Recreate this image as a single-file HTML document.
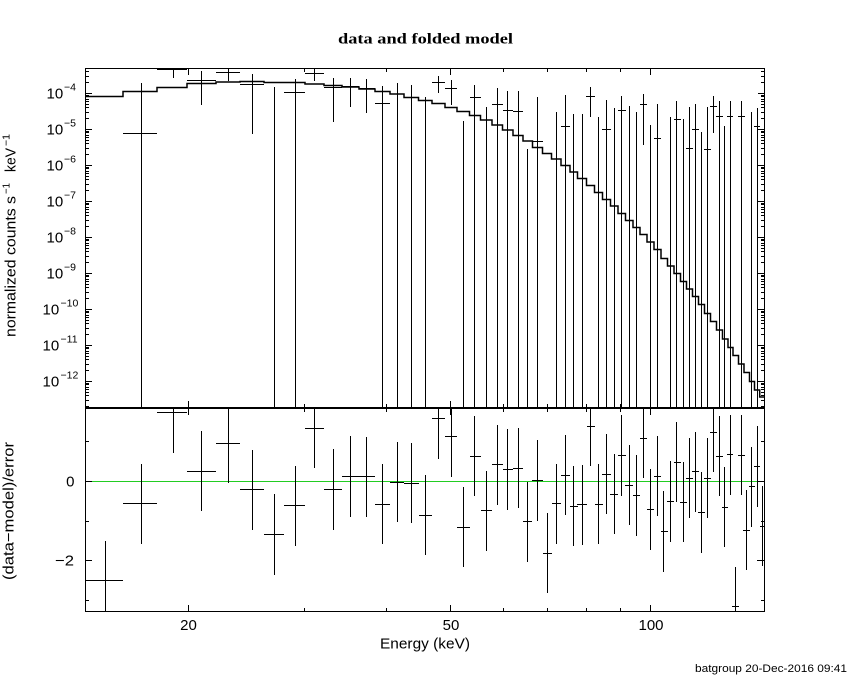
<!DOCTYPE html>
<html><head><meta charset="utf-8"><style>html,body{margin:0;padding:0;background:#fff}svg{display:block}</style></head>
<body>
<svg width="850" height="680" viewBox="0 0 850 680" xmlns="http://www.w3.org/2000/svg">
<rect width="850" height="680" fill="#fff"/>
<path d="M85 481.5H764" stroke="#22cc22" stroke-width="1" fill="none"/>
<g stroke="#000" fill="none" stroke-width="1">
<path d="M85 68.5H765 M85.5 68V408 M764.5 68V408 M85.5 408V612 M764.5 408V612 M85 611.5H765"/>
<path d="M85 408H765" stroke-width="2"/>
<path d="M188.5 68V75 M450.5 68V75 M650.5 68V75 M304.5 68V72 M386.5 68V72 M503.5 68V72 M547.5 68V72 M586.5 68V72 M620.5 68V72"/>
<path d="M188.5 407V401 M450.5 407V401 M650.5 407V401 M304.5 407V404 M386.5 407V404 M503.5 407V404 M547.5 407V404 M586.5 407V404 M620.5 407V404"/>
<path d="M188.5 409V415 M450.5 409V415 M650.5 409V415 M304.5 409V412 M386.5 409V412 M503.5 409V412 M547.5 409V412 M586.5 409V412 M620.5 409V412"/>
<path d="M188.5 611V605 M450.5 611V605 M650.5 611V605 M304.5 611V608 M386.5 611V608 M503.5 611V608 M547.5 611V608 M586.5 611V608 M620.5 611V608"/>
<path d="M85 93.5h7 M85 129.5h7 M85 165.5h7 M85 201.5h7 M85 237.5h7 M85 273.5h7 M85 309.5h7 M85 345.5h7 M85 381.5h7"/>
<path d="M765 93.5h-7 M765 129.5h-7 M765 165.5h-7 M765 201.5h-7 M765 237.5h-7 M765 273.5h-7 M765 309.5h-7 M765 345.5h-7 M765 381.5h-7"/>
<path d="M85 71.5h4 M85 76.5h4 M85 82.5h4
M85 95.5h4 M85 96.5h4 M85 99.5h4 M85 101.5h4 M85 104.5h4 M85 107.5h4 M85 112.5h4 M85 118.5h4
M85 131.5h4 M85 132.5h4 M85 135.5h4 M85 137.5h4 M85 140.5h4 M85 143.5h4 M85 148.5h4 M85 154.5h4
M85 167.5h4 M85 168.5h4 M85 171.5h4 M85 173.5h4 M85 176.5h4 M85 179.5h4 M85 184.5h4 M85 190.5h4
M85 203.5h4 M85 204.5h4 M85 207.5h4 M85 209.5h4 M85 212.5h4 M85 215.5h4 M85 220.5h4 M85 226.5h4
M85 239.5h4 M85 240.5h4 M85 243.5h4 M85 245.5h4 M85 248.5h4 M85 251.5h4 M85 256.5h4 M85 262.5h4
M85 275.5h4 M85 276.5h4 M85 279.5h4 M85 281.5h4 M85 284.5h4 M85 287.5h4 M85 292.5h4 M85 298.5h4
M85 311.5h4 M85 312.5h4 M85 315.5h4 M85 317.5h4 M85 320.5h4 M85 323.5h4 M85 328.5h4 M85 334.5h4
M85 347.5h4 M85 348.5h4 M85 351.5h4 M85 353.5h4 M85 356.5h4 M85 359.5h4 M85 364.5h4 M85 370.5h4
M85 383.5h4 M85 384.5h4 M85 387.5h4 M85 389.5h4 M85 392.5h4 M85 395.5h4 M85 400.5h4 M85 406.5h4"/>
<path d="M765 71.5h-4 M765 76.5h-4 M765 82.5h-4
M765 95.5h-4 M765 96.5h-4 M765 99.5h-4 M765 101.5h-4 M765 104.5h-4 M765 107.5h-4 M765 112.5h-4 M765 118.5h-4
M765 131.5h-4 M765 132.5h-4 M765 135.5h-4 M765 137.5h-4 M765 140.5h-4 M765 143.5h-4 M765 148.5h-4 M765 154.5h-4
M765 167.5h-4 M765 168.5h-4 M765 171.5h-4 M765 173.5h-4 M765 176.5h-4 M765 179.5h-4 M765 184.5h-4 M765 190.5h-4
M765 203.5h-4 M765 204.5h-4 M765 207.5h-4 M765 209.5h-4 M765 212.5h-4 M765 215.5h-4 M765 220.5h-4 M765 226.5h-4
M765 239.5h-4 M765 240.5h-4 M765 243.5h-4 M765 245.5h-4 M765 248.5h-4 M765 251.5h-4 M765 256.5h-4 M765 262.5h-4
M765 275.5h-4 M765 276.5h-4 M765 279.5h-4 M765 281.5h-4 M765 284.5h-4 M765 287.5h-4 M765 292.5h-4 M765 298.5h-4
M765 311.5h-4 M765 312.5h-4 M765 315.5h-4 M765 317.5h-4 M765 320.5h-4 M765 323.5h-4 M765 328.5h-4 M765 334.5h-4
M765 347.5h-4 M765 348.5h-4 M765 351.5h-4 M765 353.5h-4 M765 356.5h-4 M765 359.5h-4 M765 364.5h-4 M765 370.5h-4
M765 383.5h-4 M765 384.5h-4 M765 387.5h-4 M765 389.5h-4 M765 392.5h-4 M765 395.5h-4 M765 400.5h-4 M765 406.5h-4"/>
<path d="M85 481.5h7 M85 560.5h7 M85 441.5h4 M85 521.5h4 M85 600.5h4 M765 481.5h-7 M765 560.5h-7 M765 441.5h-4 M765 521.5h-4 M765 600.5h-4"/>
</g>
<path fill="none" stroke="#000" stroke-width="1.5" d="M85 96.5 H123 V91.5 H157 V87.5 H187 V83.5 H216 V82 H240 V81.5 H264 V82.5 H284 V82.5 H305 V84 H324 V85.5 H342 V87 H359 V89 H375 V91.5 H390 V94 H404 V97.5 H418.5 V100.5 H432 V103.5 H445 V107.5 H457 V111.5 H469.5 V115.5 H480.5 V120 H492 V125 H502.5 V130 H513 V135.5 H523 V141 H532.5 V147.5 H542.5 V153.5 H551.5 V159 H561 V165.5 H570 V172 H577.5 V178.5 H586.5 V185.5 H594.5 V192.5 H602.5 V199.5 H610.5 V206 H618 V213.5 H625.5 V220.5 H633 V227.5 H640 V234.5 H647 V242 H654 V249.5 H661 V258.5 H667.5 V266 H674 V273.5 H680.5 V281.5 H686.5 V289 H692.5 V296.5 H698.5 V304.5 H704.5 V313.5 H710.5 V321.5 H716.5 V330 H722.5 V339 H728 V347.5 H733 V355.5 H738.5 V364 H744 V372.5 H749.5 V381.5 H754.5 V390 H759.7 V397 H764"/>
<path fill="none" stroke="#000" stroke-width="1" d="M123 133.5H157 M141.5 83V407 M157 69.5H187 M173.5 68V78 M187 80.5H216 M201.5 71V105 M216 72.5H240 M228.5 68V81 M240 84.5H264 M252.5 74V134 M274.5 87V407 M284 92.5H305 M295.5 79V407 M305 73.5H324 M314.5 69V81 M324 87.5H342 M333.5 78V122 M342 86.5H359 M350.5 78V107 M359 88.5H375 M366.5 79V113 M375 103.5H390 M382.5 86V407 M397.5 83V407 M411.5 85V407 M425.5 97V407 M432 82.5H445 M438.5 76V93 M445 88.5H457 M451.5 80V105 M463.5 121V407 M470 97.5H481 M474.5 85V407 M486.5 107V407 M492 104.5H503 M497.5 88V407 M503 110.5H513 M507.5 91V407 M513 111.5H523 M518.5 91V407 M527.5 149V407 M532 141.5H543 M537.5 97V407 M556.5 112V407 M561 126.5H570 M565.5 95V407 M573.5 114V407 M582.5 114V407 M586 96.5H595 M590.5 87V117 M598.5 117V407 M602 129.5H611 M606.5 100V407 M614.5 108V407 M618 110.5H626 M621.5 96V407 M629.5 106V407 M636.5 112V407 M640 104.5H647 M643.5 94V145 M650.5 125V407 M654 138.5H661 M657.5 104V407 M670.5 117V407 M674 119.5H681 M676.5 101V407 M683.5 119V407 M686 148.5H693 M689.5 107V407 M692 129.5H699 M695.5 104V407 M701.5 132V407 M704 149.5H711 M707.5 107V407 M710 106.5H717 M713.5 96V133 M716 116.5H723 M719.5 101V407 M724.5 126V407 M727 116.5H733 M730.5 101V407 M738 116.5H745 M741.5 101V407 M751.5 112V407 M754 126.5H760 M757.5 108V407"/>
<path fill="none" stroke="#000" stroke-width="1" d="M85 580.5H123 M105.5 541V611 M123 503.5H157 M141.5 464V544 M157 412.5H187 M173.5 408V453 M187 471.5H216 M201.5 431V511 M216 443.5H240 M228.5 408V483 M240 489.5H264 M252.5 450V530 M264 534.5H284 M274.5 494V575 M284 505.5H305 M295.5 466V546 M305 428.5H324 M314.5 408V468 M324 489.5H342 M333.5 449V530 M342 476.5H359 M350.5 436V517 M359 476.5H375 M366.5 437V517 M375 504.5H390 M382.5 464V544 M390 482.5H404 M397.5 442V522 M404 483.5H419 M411.5 443V523 M419 515.5H432 M425.5 475V555 M432 418.5H445 M438.5 408V459 M445 436.5H457 M451.5 408V477 M457 527.5H470 M463.5 487V567 M470 456.5H481 M474.5 416V496 M481 510.5H492 M486.5 471V551 M492 464.5H503 M497.5 425V505 M503 469.5H513 M507.5 429V510 M513 468.5H523 M518.5 428V508 M523 521.5H532 M527.5 482V562 M532 480.5H543 M537.5 440V521 M543 553.5H552 M547.5 513V593 M552 503.5H561 M556.5 464V544 M561 475.5H570 M565.5 435V515 M570 506.5H578 M573.5 466V546 M577 504.5H587 M582.5 465V545 M587 426.5H595 M590.5 408V466 M595 504.5H603 M598.5 464V544 M602 474.5H611 M606.5 434V514 M610 494.5H618 M614.5 454V534 M618 455.5H626 M621.5 415V496 M625 485.5H633 M629.5 445V525 M633 495.5H640 M636.5 455V536 M640 438.5H647 M643.5 408V478 M647 509.5H654 M650.5 469V550 M654 476.5H661 M657.5 436V516 M661 531.5H668 M663.5 491V572 M667 501.5H674 M670.5 461V542 M674 462.5H681 M676.5 422V502 M680 502.5H687 M683.5 462V542 M686 478.5H693 M689.5 438V518 M692 471.5H699 M695.5 432V512 M698 512.5H705 M701.5 472V553 M704 478.5H711 M707.5 438V518 M710 432.5H717 M713.5 408V472 M716 456.5H723 M719.5 416V496 M722 507.5H728 M724.5 467V547 M727 454.5H733 M730.5 415V495 M732 606.5H739 M735.5 567V611 M738 455.5H745 M741.5 415V495 M743 530.5H750 M746.5 490V570 M749 486.5H755 M751.5 447V527 M754 466.5H760 M757.5 426V507 M760 526.5H764 M762.5 486V566 M757 560.5H764"/>
<text x="338" y="43.5" font-family="'Liberation Serif', serif" font-size="15" font-weight="600" textLength="175" lengthAdjust="spacingAndGlyphs" fill="#000">data and folded model</text>
<g font-family="'Liberation Sans', sans-serif" fill="#000">
<g font-size="15">
<text x="46.5" y="98.5">10</text>
<text x="46.5" y="134.5">10</text>
<text x="46.5" y="170.5">10</text>
<text x="46.5" y="206.5">10</text>
<text x="46.5" y="242.5">10</text>
<text x="46.5" y="278.5">10</text>
<text x="42.5" y="314.5">10</text>
<text x="42.5" y="350.5">10</text>
<text x="42.5" y="386.5">10</text>
</g>
<g font-size="10.5">
<text x="64" y="90.5">−4</text>
<text x="64" y="126.5">−5</text>
<text x="64" y="162.5">−6</text>
<text x="64" y="198.5">−7</text>
<text x="64" y="234.5">−8</text>
<text x="64" y="270.5">−9</text>
<text x="60.5" y="306.5">−10</text>
<text x="60.5" y="342.5">−11</text>
<text x="60.5" y="378.5">−12</text>
</g>
<text x="74.5" y="486.5" font-size="15" text-anchor="end">0</text>
<text x="55" y="565.5" font-size="15" textLength="19" lengthAdjust="spacingAndGlyphs">−2</text>
<text x="188.5" y="630" font-size="15" text-anchor="middle">20</text>
<text x="451" y="630" font-size="15" text-anchor="middle">50</text>
<text x="651" y="630" font-size="15" text-anchor="middle">100</text>
<text x="380" y="648.5" font-size="15" textLength="90" lengthAdjust="spacingAndGlyphs">Energy (keV)</text>
<text transform="translate(15.5,337) rotate(-90)" font-size="15" textLength="141" lengthAdjust="spacingAndGlyphs">normalized counts s</text>
<text transform="translate(9.5,194) rotate(-90)" font-size="10.5" textLength="11" lengthAdjust="spacingAndGlyphs">−1</text>
<text transform="translate(15.5,172) rotate(-90)" font-size="15" textLength="24" lengthAdjust="spacingAndGlyphs">keV</text>
<text transform="translate(9.5,146) rotate(-90)" font-size="10.5" textLength="12" lengthAdjust="spacingAndGlyphs">−1</text>
<text transform="translate(13.5,580) rotate(-90)" font-size="15" textLength="138" lengthAdjust="spacingAndGlyphs">(data−model)/error</text>
<text x="695" y="672" font-size="11" textLength="152" lengthAdjust="spacingAndGlyphs">batgroup 20-Dec-2016 09:41</text>
</g>
</svg>
</body></html>
